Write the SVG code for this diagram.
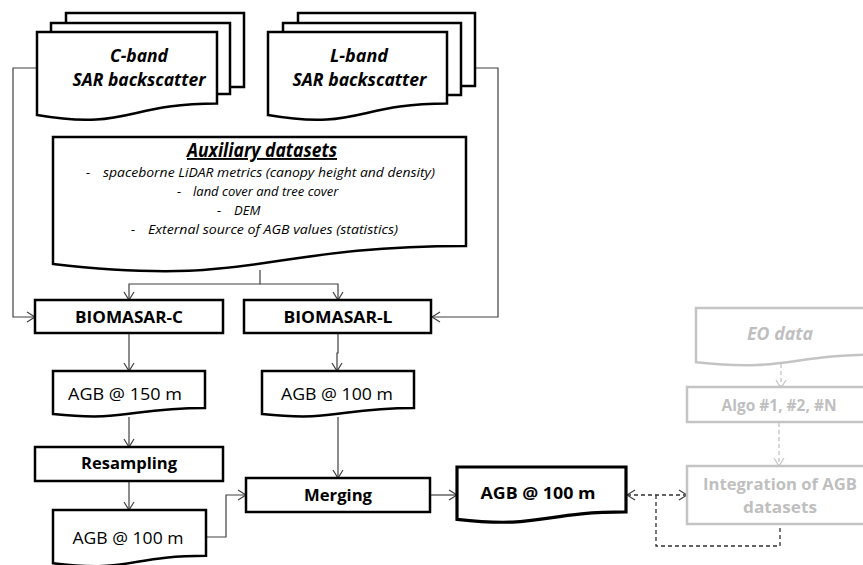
<svg xmlns="http://www.w3.org/2000/svg" width="863" height="565" viewBox="0 0 863 565">
<style>
.box{fill:#fff;stroke:#000;stroke-width:2.5;stroke-linejoin:miter}
.bold{stroke-width:3.2}
.gbox{fill:#fff;stroke:#c4c4c4;stroke-width:2.5}
.con{fill:none;stroke:#404040;stroke-width:1.2}
.dash{fill:none;stroke:#303030;stroke-width:1.3;stroke-dasharray:4 3}
.gdash{fill:none;stroke:#c4c4c4;stroke-width:1.3;stroke-dasharray:4 3}
text{font-family:"Open Sans","Noto Sans","Liberation Sans",sans-serif;fill:#000;text-anchor:middle}
.tt{font-size:17.5px;font-weight:bold;font-style:italic}
.lb{font-size:16.5px;font-weight:bold}
.rg{font-size:16.5px}
.ax{font-size:13px;font-style:italic;text-anchor:start}
.gt{fill:#bfbfbf}
</style>
<defs>
<marker id="arr" viewBox="0 0 8 10" refX="8" refY="5" markerWidth="8" markerHeight="10" markerUnits="userSpaceOnUse" orient="auto-start-reverse" overflow="visible"><path d="M0,0 L8,5 L0,10" fill="none" stroke="#404040" stroke-width="1.2"/></marker>
<marker id="garr" viewBox="0 0 8 10" refX="8" refY="5" markerWidth="8" markerHeight="10" markerUnits="userSpaceOnUse" orient="auto-start-reverse" overflow="visible"><path d="M0,0 L8,5 L0,10" fill="none" stroke="#c4c4c4" stroke-width="1.2"/></marker>
</defs>

<g id="connectors">
<path class="con" d="M37,68 H13 V317 H35" marker-end="url(#arr)"/>
<path class="con" d="M475,68 H498 V317 H432" marker-end="url(#arr)"/>
<path class="con" d="M260,270 V284 H129 V300" marker-end="url(#arr)"/>
<path class="con" d="M260,284 H338 V300" marker-end="url(#arr)"/>
<path class="con" d="M129,333 V371" marker-end="url(#arr)"/>
<path class="con" d="M338,333 V353 H337 V371" marker-end="url(#arr)"/>
<path class="con" d="M129,417 V447" marker-end="url(#arr)"/>
<path class="con" d="M129,481 V510" marker-end="url(#arr)"/>
<path class="con" d="M338,417 V478" marker-end="url(#arr)"/>
<path class="con" d="M206,537 H226 V495 H246" marker-end="url(#arr)"/>
<path class="con" d="M430,495 H457" marker-end="url(#arr)"/>
<path class="dash" d="M627,495 H687" marker-start="url(#arr)" marker-end="url(#arr)"/>
<path class="dash" d="M656,495 V546 H780 V525"/>
<path class="gdash" d="M781,364 V388" marker-end="url(#garr)"/>
<path class="gdash" d="M779,423 V466" marker-end="url(#garr)"/>
</g>

<g id="c-band">
<rect class="box" x="66" y="13" width="178" height="74"/>
<rect class="box" x="51" y="23" width="179" height="71"/>
<path class="box" d="M37,32 H217 V103.4 C127,103.4 127,130.5 37,115.1 Z"/>
<text class="tt" x="139" y="62" textLength="58" lengthAdjust="spacingAndGlyphs">C-band</text>
<text class="tt" x="139" y="86" textLength="133" lengthAdjust="spacingAndGlyphs">SAR backscatter</text>
</g>

<g id="l-band">
<rect class="box" x="298" y="13" width="177" height="73"/>
<rect class="box" x="283" y="23" width="178" height="72"/>
<path class="box" d="M268,32 H447 V103.4 C357.5,103.4 357.5,130.5 268,115.1 Z"/>
<text class="tt" x="359" y="62" textLength="58" lengthAdjust="spacingAndGlyphs">L-band</text>
<text class="tt" x="359.5" y="86" textLength="134" lengthAdjust="spacingAndGlyphs">SAR backscatter</text>
</g>

<g id="auxiliary">
<path class="box" d="M53,137 H466 V246 C259.5,246 259.5,287.6 53,264 Z"/>
<text class="tt" x="262" y="157" textLength="150" lengthAdjust="spacingAndGlyphs" text-decoration="underline" style="font-size:19px">Auxiliary datasets</text>
<text class="ax" x="86" y="177">-</text>
<text class="ax" x="103" y="177" textLength="332" lengthAdjust="spacingAndGlyphs">spaceborne LiDAR metrics (canopy height and density)</text>
<text class="ax" x="177" y="196">-</text>
<text class="ax" x="193" y="196">land cover and tree cover</text>
<text class="ax" x="217" y="215">-</text>
<text class="ax" x="234" y="215">DEM</text>
<text class="ax" x="131" y="234">-</text>
<text class="ax" x="148" y="234" textLength="250" lengthAdjust="spacingAndGlyphs">External source of AGB values (statistics)</text>
</g>

<g id="biomasar-c">
<rect class="box" x="35" y="300" width="188" height="33"/>
<text class="lb" x="129" y="323" textLength="108" lengthAdjust="spacingAndGlyphs">BIOMASAR-C</text>
</g>
<g id="biomasar-l">
<rect class="box" x="244" y="300" width="187" height="33"/>
<text class="lb" x="338" y="323" textLength="109" lengthAdjust="spacingAndGlyphs">BIOMASAR-L</text>
</g>

<g id="agb150">
<path class="box" d="M53,371 H205 V407.9 C129,407.9 129,421.9 53,414 Z"/>
<text class="rg" x="125" y="400" textLength="114" lengthAdjust="spacingAndGlyphs">AGB @ 150 m</text>
</g>
<g id="agb100-l">
<path class="box" d="M262,371 H414 V407.9 C338,407.9 338,421.9 262,414 Z"/>
<text class="rg" x="337" y="400" textLength="112" lengthAdjust="spacingAndGlyphs">AGB @ 100 m</text>
</g>

<g id="resampling">
<rect class="box" x="35" y="447" width="188" height="34"/>
<text class="lb" x="129" y="469" textLength="96" lengthAdjust="spacingAndGlyphs">Resampling</text>
</g>

<g id="agb100-c">
<path class="box" d="M53,510 H206 V555.7 C129.5,555.7 129.5,573.1 53,563.2 Z"/>
<text class="rg" x="128" y="544" textLength="111" lengthAdjust="spacingAndGlyphs">AGB @ 100 m</text>
</g>

<g id="merging">
<rect class="box" x="246" y="478" width="184" height="34"/>
<text class="lb" x="338" y="501" textLength="68" lengthAdjust="spacingAndGlyphs">Merging</text>
</g>

<g id="agb100-final">
<path class="box bold" d="M457,467 H626 V511.9 C541.5,511.9 541.5,529 457,519.3 Z"/>
<text class="lb" x="538" y="499" textLength="115" lengthAdjust="spacingAndGlyphs">AGB @ 100 m</text>
</g>

<g id="eo-data">
<path class="gbox" d="M696,308 H880 V354.5 C788,354.5 788,372.2 696,362.2 Z"/>
<text class="tt gt" x="780" y="340" textLength="66" lengthAdjust="spacingAndGlyphs" style="font-size:18px">EO data</text>
</g>

<g id="algo">
<rect class="gbox" x="687" y="387" width="193" height="35"/>
<text class="lb gt" x="779" y="411" textLength="115" lengthAdjust="spacingAndGlyphs">Algo #1, #2, #N</text>
</g>

<g id="integration">
<rect class="gbox" x="687" y="466" width="193" height="58"/>
<text class="lb gt" x="780" y="490" textLength="154" lengthAdjust="spacingAndGlyphs">Integration of AGB</text>
<text class="lb gt" x="780" y="513" textLength="74" lengthAdjust="spacingAndGlyphs">datasets</text>
</g>
</svg>
